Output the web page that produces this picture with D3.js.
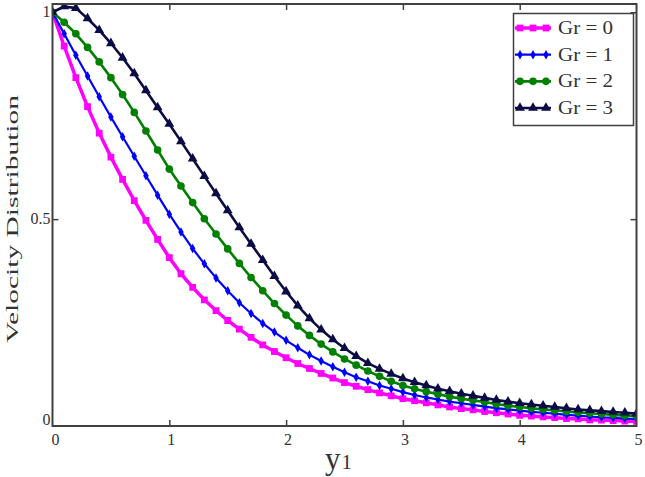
<!DOCTYPE html>
<html>
<head>
<meta charset="utf-8">
<script src="https://cdn.jsdelivr.net/npm/d3@7"></script>
<style>
  html, body { margin: 0; padding: 0; background: #fff; }
  svg { display: block; }
  text { font-family: 'Liberation Serif', 'Times New Roman', serif; }
</style>
</head>
<body>
<svg id="chart" width="645" height="477"></svg>
<script>
// y1 positions, one marker every 0.1
const xValues = d3.range(0, 51).map((i) => +(i * 0.1).toFixed(1));

const gr0 = [1.000, 0.918, 0.842, 0.772, 0.708, 0.650, 0.596, 0.545, 0.497, 0.451,
  0.407, 0.368, 0.335, 0.305, 0.279, 0.255, 0.234, 0.214, 0.196, 0.180,
  0.165, 0.151, 0.139, 0.127, 0.116, 0.105, 0.096, 0.088, 0.080, 0.073,
  0.066, 0.061, 0.056, 0.051, 0.046, 0.042, 0.039, 0.035, 0.032, 0.029,
  0.026, 0.024, 0.022, 0.020, 0.018, 0.017, 0.015, 0.014, 0.013, 0.012, 0.011];
const gr1 = [1.000, 0.948, 0.896, 0.846, 0.796, 0.747, 0.699, 0.652, 0.605, 0.558,
  0.512, 0.469, 0.429, 0.392, 0.358, 0.327, 0.298, 0.272, 0.248, 0.227,
  0.207, 0.189, 0.172, 0.157, 0.143, 0.130, 0.118, 0.108, 0.098, 0.090,
  0.082, 0.075, 0.069, 0.064, 0.059, 0.055, 0.051, 0.047, 0.043, 0.040,
  0.037, 0.034, 0.032, 0.030, 0.027, 0.025, 0.023, 0.021, 0.020, 0.018, 0.017];
const gr2 = [1.000, 0.976, 0.948, 0.915, 0.880, 0.842, 0.801, 0.758, 0.713, 0.667,
  0.621, 0.580, 0.540, 0.501, 0.464, 0.428, 0.393, 0.359, 0.327, 0.296,
  0.268, 0.242, 0.219, 0.198, 0.179, 0.162, 0.147, 0.133, 0.120, 0.108,
  0.098, 0.090, 0.083, 0.077, 0.071, 0.066, 0.062, 0.058, 0.053, 0.049,
  0.046, 0.043, 0.040, 0.038, 0.035, 0.033, 0.031, 0.029, 0.027, 0.025, 0.024];
const gr3 = [1.000, 1.014, 1.010, 0.985, 0.957, 0.925, 0.890, 0.852, 0.811, 0.770,
  0.730, 0.688, 0.646, 0.604, 0.562, 0.521, 0.480, 0.440, 0.401, 0.362,
  0.325, 0.291, 0.260, 0.233, 0.209, 0.188, 0.169, 0.152, 0.138, 0.126,
  0.115, 0.106, 0.098, 0.090, 0.084, 0.078, 0.073, 0.068, 0.063, 0.059,
  0.055, 0.052, 0.049, 0.046, 0.043, 0.040, 0.038, 0.036, 0.034, 0.032, 0.030];

const seriesNames = ['Gr = 0', 'Gr = 1', 'Gr = 2', 'Gr = 3'];
const seriesValues = [gr0, gr1, gr2, gr3];

const xTicks = [0, 1, 2, 3, 4, 5];
const yTicks = [0, 0.5, 1];
const yTickLabels = ['0', '0.5', '1'];

// look of each curve: colour, marker, widths
const styles = [
  {color: '#ff00ff', symbol: d3.symbolSquare, size: 46, width: 3.5},
  {color: '#0000ff', symbol: d3.symbolDiamond, size: 26, width: 2.2},
  {color: '#008000', symbol: d3.symbolCircle, size: 46, width: 2.6},
  {color: '#0b0b45', symbol: d3.symbolTriangle, size: 42, width: 2.6},
];

const frameColor = '#404040';
const labelColor = '#333';

const svg = d3.select('#chart');

// plot box in pixels
const box = {left: 52.5, right: 636.5, top: 4, bottom: 426};

const x = d3.scaleLinear().domain([0, 5]).range([box.left, box.right]);
const y = d3.scaleLinear().domain([0, 1.02]).range([box.bottom, box.top]);

svg.append('defs').append('clipPath')
   .attr('id', 'plot-clip')
   .append('rect')
   .attr('x', box.left).attr('y', box.top)
   .attr('width', box.right - box.left).attr('height', box.bottom - box.top);

// inward ticks on all four sides
const inner = [1, 2, 3, 4];
svg.append('g')
   .attr('transform', `translate(0, ${box.bottom})`)
   .call(d3.axisTop(x).tickValues(inner).tickSize(6).tickFormat(''))
   .call((g) => g.select('.domain').remove())
   .selectAll('line').attr('stroke', frameColor).attr('stroke-width', 1.5);
svg.append('g')
   .attr('transform', `translate(0, ${box.top})`)
   .call(d3.axisBottom(x).tickValues(inner).tickSize(6).tickFormat(''))
   .call((g) => g.select('.domain').remove())
   .selectAll('line').attr('stroke', frameColor).attr('stroke-width', 1.5);
svg.append('g')
   .attr('transform', `translate(${box.left}, 0)`)
   .call(d3.axisRight(y).tickValues([0.5]).tickSize(6).tickFormat(''))
   .call((g) => g.select('.domain').remove())
   .selectAll('line').attr('stroke', frameColor).attr('stroke-width', 1.5);
svg.append('g')
   .attr('transform', `translate(${box.right}, 0)`)
   .call(d3.axisLeft(y).tickValues([0.5, 1]).tickSize(6).tickFormat(''))
   .call((g) => g.select('.domain').remove())
   .selectAll('line').attr('stroke', frameColor).attr('stroke-width', 1.5);

// curves
const line = d3.line()
               .x((d, i) => x(xValues[i]))
               .y((d) => y(d));

const plot = svg.append('g').attr('clip-path', 'url(#plot-clip)');

seriesValues.forEach((values, k) => {
  const st = styles[k];
  const g = plot.append('g').attr('class', 'series');
  g.append('path')
   .datum(values)
   .attr('fill', 'none')
   .attr('stroke', st.color)
   .attr('stroke-width', st.width)
   .attr('stroke-linejoin', 'round')
   .attr('d', line);
  g.selectAll('path.marker')
   .data(values)
   .enter()
   .append('path')
   .classed('marker', true)
   .attr('transform', (d, i) => `translate(${x(xValues[i])}, ${y(d)})`)
   .attr('d', d3.symbol().type(st.symbol).size(st.size))
   .attr('fill', st.color);
});

// frame
svg.append('rect')
   .attr('x', box.left).attr('y', box.top)
   .attr('width', box.right - box.left).attr('height', box.bottom - box.top)
   .attr('fill', 'none')
   .attr('stroke', frameColor)
   .attr('stroke-width', 2);

// tick labels
svg.selectAll('text.ylab')
   .data(yTicks)
   .enter()
   .append('text')
   .classed('ylab', true)
   .attr('x', box.left - 2)
   .attr('y', (d) => (d === 0 ? y(d) - 1 : y(d) + 5))
   .attr('text-anchor', 'end')
   .attr('font-size', 16)
   .attr('fill', labelColor)
   .text((d, i) => yTickLabels[i]);

svg.selectAll('text.xlab')
   .data(xTicks)
   .enter()
   .append('text')
   .classed('xlab', true)
   .attr('x', (d) => x(d) + (d === 0 ? 3 : 2))
   .attr('y', box.bottom + 19)
   .attr('text-anchor', 'middle')
   .attr('font-size', 16)
   .attr('fill', labelColor)
   .text((d) => d);

// axis titles
const xTitle = svg.append('text')
                  .attr('x', 325)
                  .attr('y', 469)
                  .attr('fill', labelColor)
                  .attr('font-size', 31);
xTitle.append('tspan').text('y');
xTitle.append('tspan').attr('font-size', 21).attr('dx', 1).text('1');

svg.append('text')
   .attr('transform', `translate(18, 219) rotate(-90)`)
   .attr('text-anchor', 'middle')
   .attr('font-size', 17)
   .attr('fill', labelColor)
   .attr('textLength', 248)
   .attr('lengthAdjust', 'spacingAndGlyphs')
   .text('Velocity  Distribution');

// legend
const legend = svg.append('g');
legend.append('rect')
      .attr('x', 513.5).attr('y', 13.5)
      .attr('width', 120).attr('height', 112)
      .attr('fill', '#fff')
      .attr('stroke', frameColor)
      .attr('stroke-width', 1.5);

const rowY = d3.scalePoint().domain(seriesNames).range([28, 108]);
const sampleX = [520, 533, 546];

seriesNames.forEach((name, k) => {
  const st = styles[k];
  const ry = rowY(name);
  const row = legend.append('g');
  row.append('line')
     .attr('x1', 515).attr('x2', 551)
     .attr('y1', ry).attr('y2', ry)
     .attr('stroke', st.color)
     .attr('stroke-width', st.width);
  row.selectAll('path')
     .data(sampleX)
     .enter()
     .append('path')
     .attr('transform', (d) => `translate(${d}, ${ry})`)
     .attr('d', d3.symbol().type(st.symbol).size(st.size))
     .attr('fill', st.color);
  row.append('text')
     .attr('x', 558)
     .attr('y', ry + 6)
     .attr('font-size', 19)
     .attr('fill', labelColor)
     .attr('textLength', 55)
     .attr('lengthAdjust', 'spacingAndGlyphs')
     .text(name);
});
</script>
</body>
</html>
